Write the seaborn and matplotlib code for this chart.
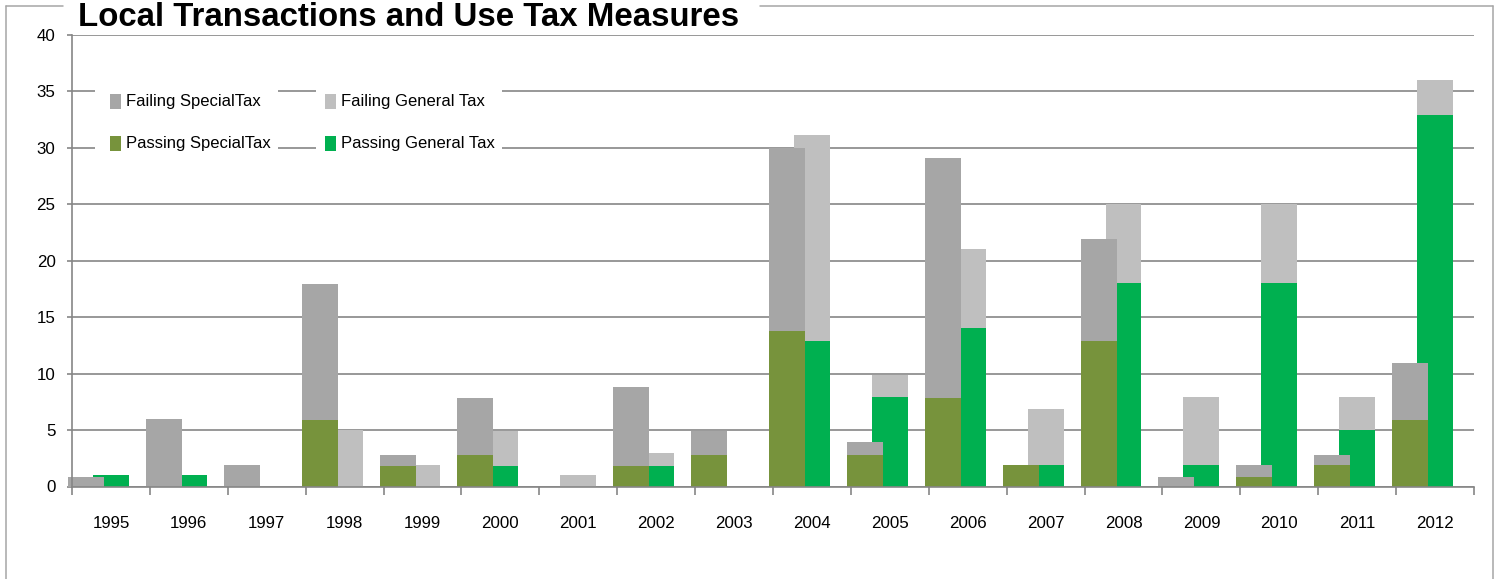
import numpy as np
import pandas as pd
import matplotlib
matplotlib.use("Agg")
import matplotlib.pyplot as plt
import seaborn as sns
from matplotlib.patches import Rectangle
from matplotlib.lines import Line2D

# ---- data ----
years = [1995, 1996, 1997, 1998, 1999, 2000, 2001, 2002, 2003,
         2004, 2005, 2006, 2007, 2008, 2009, 2010, 2011, 2012]
special_pass = [0, 0, 0, 5.9, 1.8, 2.8, 0, 1.8, 2.8, 13.8, 2.8, 7.8, 1.9, 12.9, 0, 0.8, 1.9, 5.9]
special_fail = [0.8, 6.0, 1.9, 12.0, 1.0, 5.0, 0, 7.0, 2.1, 16.2, 1.1, 21.3, 0, 9.0, 0.8, 1.1, 0.9, 5.0]
general_pass = [1.0, 1.0, 0, 0, 0, 1.8, 0, 1.8, 0, 12.9, 7.9, 14.0, 1.9, 18.0, 1.9, 18.0, 5.0, 32.9]
general_fail = [0, 0, 0, 5.0, 1.9, 3.1, 1.0, 1.2, 0, 18.2, 2.0, 7.0, 5.0, 7.0, 6.0, 7.0, 2.9, 3.1]
y_ticks = [0, 5, 10, 15, 20, 25, 30, 35, 40]
title = "Local Transactions and Use Tax Measures"
legend_labels = ["Failing SpecialTax", "Failing General Tax",
                 "Passing SpecialTax", "Passing General Tax"]

# ---- style ----
c_fail_special = "#A6A6A6"
c_fail_general = "#BFBFBF"
c_pass_special = "#77933C"
c_pass_general = "#00B050"
grid_c = "#868686"
border_c = "#A6A6A6"

sns.set_style("white")
plt.rcParams["font.family"] = ["Liberation Sans", "DejaVu Sans"]

W, H = 1497, 579
fig = plt.figure(figsize=(W / 100, H / 100), dpi=100)
AX_L, AX_R, AX_T, AX_B = 72, 1474, 35, 486.5
ax = fig.add_axes([AX_L / W, 1 - AX_B / H, (AX_R - AX_L) / W, (AX_B - AX_T) / H])

idx = np.arange(len(years))
df = pd.DataFrame({
    "year": years,
    "special_x": idx - 0.32,
    "general_x": idx.astype(float),
    "special_pass": special_pass,
    "general_pass": general_pass,
})
df["special_total"] = np.array(special_pass) + np.array(special_fail)
df["general_total"] = np.array(general_pass) + np.array(general_fail)

layers = [
    ("general_x", "general_total", c_fail_general, 2),
    ("general_x", "general_pass", c_pass_general, 3),
    ("special_x", "special_total", c_fail_special, 4),
    ("special_x", "special_pass", c_pass_special, 5),
]
for xcol, ycol, col, z in layers:
    sns.barplot(data=df, x=xcol, y=ycol, native_scale=True, orient="x",
                width=0.462, color=col, saturation=1, errorbar=None,
                linewidth=0, clip_on=False, zorder=z, ax=ax)

# ---- axes ----
TICK_FS = 12.2
ax.set_xlim(-0.5, len(years) - 0.5)
ax.set_ylim(0, 40)
ax.set_xlabel("")
ax.set_ylabel("")
ax.set_xticks(idx)
ax.set_xticklabels([str(y) for y in years])
ax.set_xticks(np.arange(-0.5, len(years), 1.0), minor=True)
ax.set_yticks(y_ticks)
ax.set_yticklabels([str(v) for v in y_ticks])
ax.tick_params(axis="x", which="major", length=0, pad=21, labelsize=TICK_FS, labelcolor="black")
ax.tick_params(axis="x", which="minor", bottom=True, length=5.8, width=1.2, color=grid_c)
ax.tick_params(axis="y", which="major", left=True, length=3.6, width=1.2, color=grid_c,
               pad=8.2, labelsize=TICK_FS, labelcolor="black")
ax.yaxis.grid(True, color=grid_c, linewidth=1.2)
ax.xaxis.grid(False)
ax.set_axisbelow(True)
for s in ["top", "right"]:
    ax.spines[s].set_visible(False)
for s in ["left", "bottom"]:
    ax.spines[s].set_color(grid_c)
    ax.spines[s].set_linewidth(1.2)
    ax.spines[s].set_zorder(6)

# ---- legend (entries with white backgrounds that interrupt grid lines) ----
def fx(px):
    return (px - AX_L) / (AX_R - AX_L)

def fy(py):
    return (AX_B - py) / (AX_B - AX_T)

entries = [
    (legend_labels[0], c_fail_special, 95, 278, 110, 126, 101.5),
    (legend_labels[1], c_fail_general, 316, 502, 325, 341, 101.5),
    (legend_labels[2], c_pass_special, 95, 278, 110, 126, 143.5),
    (legend_labels[3], c_pass_general, 316, 502, 325, 341, 143.5),
]
for lab, col, bx0, bx1, sx, tx, cy in entries:
    ax.add_patch(Rectangle((fx(bx0), fy(cy + 13)), fx(bx1) - fx(bx0), fy(cy - 13) - fy(cy + 13),
                           transform=ax.transAxes, facecolor="white", edgecolor="none",
                           zorder=1.5, clip_on=False))
    ax.add_patch(Rectangle((fx(sx), fy(cy + 7.8)), fx(sx + 10.7) - fx(sx), fy(cy - 7.8) - fy(cy + 7.8),
                           transform=ax.transAxes, facecolor=col, edgecolor="none",
                           zorder=7, clip_on=False))
    ax.text(fx(tx), fy(cy), lab, transform=ax.transAxes, ha="left", va="center",
            fontsize=12.0, color="black", zorder=7)

# ---- chart frame and title ----
def fline(x0, y0, x1, y1):
    fig.add_artist(Line2D([x0 / W, x1 / W], [1 - y0 / H, 1 - y1 / H],
                          transform=fig.transFigure, color=border_c, linewidth=1.1))

fline(6, 6, 6, H)
fline(6, 6, 63, 6)
fline(760, 6, 1493, 6)
fline(1493, 6, 1493, H)

fig.text(78 / W, 1 - 26 / H, title, fontsize=23.8, fontweight="bold",
         ha="left", va="baseline", color="black")

fig.savefig("out.png", dpi=100)
